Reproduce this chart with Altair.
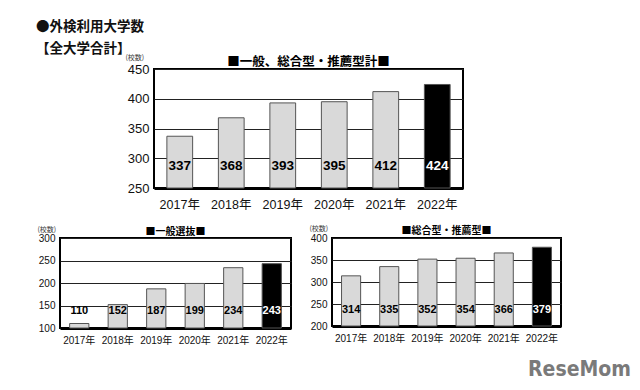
import altair as alt
import pandas as pd

years = ["2017年", "2018年", "2019年", "2020年", "2021年", "2022年"]
total_counts = [337, 368, 393, 395, 412, 424]
general_counts = [110, 152, 187, 199, 234, 243]
comprehensive_counts = [314, 335, 352, 354, 366, 379]

header_lines = ["●外検利用大学数", "【全大学合計】"]
total_title = "■一般、総合型・推薦型計■"
general_title = "■一般選抜■"
comprehensive_title = "■総合型・推薦型■"
unit_label = "(校数)"
total_domain = [250, 450]
general_domain = [100, 300]
comprehensive_domain = [200, 400]
tick_step = 50
logo_text = "ReseMom"

JP = "Noto Sans CJK JP"
NUM = "Liberation Sans, Noto Sans CJK JP"


def panel(values, domain, title, w, h, title_size, title_offset, tick_size,
          year_size, year_pad, value_size, label_dy, unit_x, unit_y,
          x_title=None):
    df = pd.DataFrame({"year": years, "count": values})
    df["tone"] = ["latest" if y == years[-1] else "past" for y in years]
    x_axis_kwargs = dict(
        labelAngle=0, ticks=False, domainColor="#000", domainWidth=3,
        labelFont=NUM, labelFontSize=year_size, labelColor="#111",
        labelPadding=year_pad, grid=False,
    )
    if x_title:
        x_axis_kwargs.update(
            title=x_title, titleFont="DejaVu Sans Condensed", titleFontSize=21,
            titleFontWeight="bold", titleColor="#7a7a7a", titleX=w + 18,
            titleY=43, titleAlign="center", titleBaseline="middle",
        )
    else:
        x_axis_kwargs.update(title=None)
    x_axis = alt.Axis(**x_axis_kwargs)
    yscale = alt.Scale(domain=domain, zero=False, nice=False)
    y_axis = alt.Axis(
        values=list(range(domain[0], domain[1] + 1, tick_step)),
        labelOverlap=False,
        grid=True, gridColor="#222", gridWidth=1, domain=False, ticks=False,
        labelFont=NUM, labelFontSize=tick_size, labelColor="#111",
        labelPadding=5, title=unit_label, titleAngle=0, titleX=unit_x,
        titleY=unit_y, titleFontSize=7, titleFontWeight="normal",
        titleFont=JP, titleAlign="left", titleBaseline="middle",
        titleColor="#333",
    )
    xscale = alt.Scale(paddingInner=0.5, paddingOuter=0.25)
    bars = alt.Chart(df).mark_bar(stroke="#555", strokeWidth=1).encode(
        x=alt.X("year:N", sort=years, scale=xscale, axis=x_axis),
        y=alt.Y("count:Q", scale=yscale, axis=y_axis),
        y2=alt.datum(domain[0]),
        color=alt.Color("tone:N", scale=alt.Scale(domain=["past", "latest"],
                                                  range=["#d9d9d9", "#000000"]),
                        legend=None),
    )
    labels = alt.Chart(df).mark_text(
        fontWeight="bold", fontSize=value_size, font=NUM, dy=-label_dy,
        baseline="middle",
    ).encode(
        x=alt.X("year:N", sort=years, scale=xscale, axis=x_axis),
        y=alt.YDatum(domain[0], scale=yscale, axis=y_axis),
        text="count:Q",
        color=alt.condition(alt.datum.tone == "latest", alt.value("#ffffff"),
                            alt.value("#000000")),
    )
    return alt.layer(bars, labels).properties(
        width=w, height=h,
        title=alt.TitleParams(title, font=JP, fontSize=title_size,
                              fontWeight="bold", anchor="middle", frame="group",
                              offset=title_offset, color="#000"),
    )


top = panel(total_counts, total_domain, total_title, 309, 119, 12.5, -15,
            13, 12.5, 10, 13.5, 22, -29, -12)
left = panel(general_counts, general_domain, general_title, 231, 90, 10, -12,
             10, 10, 7, 11, 17, -23, -9)
right = panel(comprehensive_counts, comprehensive_domain, comprehensive_title,
              229, 88, 10, -12, 10, 10, 7, 11, 16, -23, -10, x_title=logo_text)

spacer = alt.Chart(pd.DataFrame({"a": [0]})).mark_point(opacity=0).encode(
    x=alt.value(0), y=alt.value(0)
).properties(width=63, height=1, view=alt.ViewBackground(stroke="transparent"))

row1 = alt.hconcat(spacer, top, spacing=0)
row2 = alt.hconcat(left, right, spacing=16)

chart = alt.vconcat(row1, row2, spacing=11).properties(
    title=alt.TitleParams(header_lines, anchor="start", font=JP, fontSize=13.5,
                          fontWeight="bold", lineHeight=22, offset=-3,
                          color="#111"),
    padding={"left": 28, "top": 11, "right": 0, "bottom": 0},
).configure_view(stroke="#000", strokeWidth=2)

chart.save("out.html", embed_options={"renderer": "svg", "actions": False})
